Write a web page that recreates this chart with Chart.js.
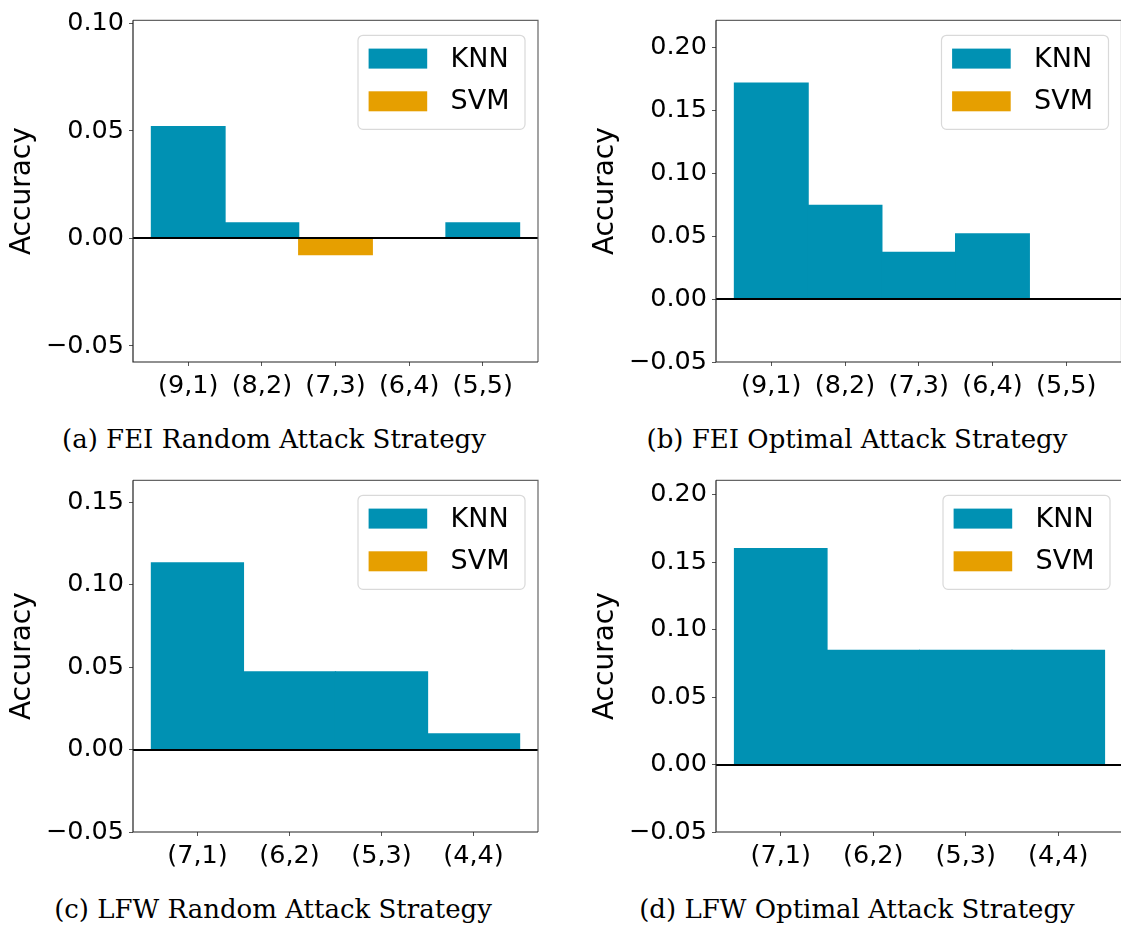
<!DOCTYPE html>
<html>
<head>
<meta charset="utf-8">
<script src="https://cdn.jsdelivr.net/npm/chart.js@4.4.0/dist/chart.umd.min.js"></script>
<style>
  html, body { margin: 0; padding: 0; background: #fff; overflow: hidden; }
  body { width: 1121px; height: 928px; position: relative; }
  .panel { position: absolute; }
  .caption {
    position: absolute;
    font-family: "DejaVu Serif", serif;
    font-size: 26px;
    line-height: 30px;
    color: #000;
    white-space: nowrap;
    transform: translateX(-50%);
  }
</style>
</head>
<body>
<div class="panel" style="left:0;top:0;width:560px;height:400px"><canvas id="feiRandom"></canvas></div>
<div class="panel" style="left:583px;top:0;width:540px;height:400px"><canvas id="feiOptimal"></canvas></div>
<div class="panel" style="left:0;top:460px;width:560px;height:410px"><canvas id="lfwRandom"></canvas></div>
<div class="panel" style="left:583px;top:460px;width:542px;height:410px"><canvas id="lfwOptimal"></canvas></div>

<div class="caption" style="left:274px;top:424px">(a) FEI Random Attack Strategy</div>
<div class="caption" style="left:857px;top:424px">(b) FEI Optimal Attack Strategy</div>
<div class="caption" style="left:273px;top:894px">(c) LFW Random Attack Strategy</div>
<div class="caption" style="left:857px;top:894px">(d) LFW Optimal Attack Strategy</div>

<script>
// (train, attack) splits
const feiGroups = ['(9,1)', '(8,2)', '(7,3)', '(6,4)', '(5,5)'];
const lfwGroups = ['(7,1)', '(6,2)', '(5,3)', '(4,4)'];

// accuracy change per split
const feiRandomKnn = [0.052, 0.0073, 0, 0, 0.0072];
const feiRandomSvm = [0, 0, -0.0075, 0, 0];
const feiOptimalKnn = [0.1715, 0.0744, 0.037, 0.0518, 0];
const feiOptimalSvm = [0, 0, 0, 0, 0];
const lfwRandomKnn = [0.1133, 0.0472, 0.0472, 0.0095];
const lfwRandomSvm = [0, 0, 0, 0];
const lfwOptimalKnn = [0.16, 0.0847, 0.0847, 0.0847];
const lfwOptimalSvm = [0, 0, 0, 0];

// y ticks
const feiRandomTicks = [-0.05, 0, 0.05, 0.10];
const feiOptimalTicks = [-0.05, 0, 0.05, 0.10, 0.15, 0.20];
const lfwRandomTicks = [-0.05, 0, 0.05, 0.10, 0.15];
const lfwOptimalTicks = [-0.05, 0, 0.05, 0.10, 0.15, 0.20];

const knnColor = '#0091b3';
const svmColor = '#e69f00';
const sans = 'DejaVu Sans';

function fmtTick(v) {
  return (v < 0 ? '\u2212' : '') + Math.abs(v).toFixed(2);
}

// zero line + axes frame, drawn over the bars
const framePlugin = {
  id: 'frame',
  afterDatasetsDraw(chart) {
    const {ctx, chartArea: a, scales} = chart;
    const y0 = Math.round(scales.y.getPixelForValue(0));
    ctx.save();
    ctx.strokeStyle = '#000';
    ctx.lineWidth = 2;
    ctx.beginPath();
    ctx.moveTo(a.left, y0);
    ctx.lineTo(a.right, y0);
    ctx.stroke();

    ctx.lineWidth = 1.2;
    ctx.strokeStyle = '#666';
    ctx.beginPath();
    ctx.moveTo(a.left, a.top);
    ctx.lineTo(a.right, a.top);
    ctx.lineTo(a.right, a.bottom);
    ctx.stroke();
    ctx.strokeStyle = '#222';
    ctx.beginPath();
    ctx.moveTo(a.left, a.top);
    ctx.lineTo(a.left, a.bottom);
    ctx.lineTo(a.right, a.bottom);
    ctx.stroke();
    ctx.restore();
  }
};

// boxed legend in the upper right corner
const boxLegend = {
  id: 'boxLegend',
  afterDraw(chart) {
    const {ctx, chartArea: a} = chart;
    const w = 167, h = 94;
    const bx = a.right - 13 - w, by = a.top + 15;
    ctx.save();
    ctx.fillStyle = 'rgba(255,255,255,0.8)';
    ctx.strokeStyle = '#d9d9d9';
    ctx.lineWidth = 1.2;
    ctx.beginPath();
    ctx.roundRect(bx, by, w, h, 5);
    ctx.fill();
    ctx.stroke();
    ctx.font = '27px "' + sans + '"';
    ctx.textBaseline = 'middle';
    chart.data.datasets.forEach((ds, i) => {
      const py = by + 13.3 + i * 42.7;
      ctx.fillStyle = ds.backgroundColor;
      ctx.fillRect(bx + 10.6, py, 58.6, 20);
      ctx.fillStyle = '#000';
      ctx.fillText(ds.label, bx + 92.6, py + 11);
    });
    ctx.restore();
  }
};

function makeChart(id, groups, knn, svm, yMin, yMax, yTicks, pad) {
  const xMargin = 0.5 + groups.length * 0.05;
  return new Chart(document.getElementById(id), {
    type: 'bar',
    data: {
      datasets: [
        { label: 'KNN', data: knn.map((v, i) => ({x: i, y: v})), backgroundColor: knnColor, borderWidth: 0 },
        { label: 'SVM', data: svm.map((v, i) => ({x: i, y: v})), backgroundColor: svmColor, borderWidth: 0 }
      ]
    },
    options: {
      responsive: true,
      maintainAspectRatio: false,
      animation: false,
      layout: { padding: pad },
      datasets: { bar: { grouped: false, categoryPercentage: 1, barPercentage: 1, inflateAmount: 0.6 } },
      plugins: { legend: { display: false }, tooltip: { enabled: false } },
      scales: {
        x: {
          type: 'linear',
          offset: false,
          min: -xMargin,
          max: groups.length - 1 + xMargin,
          afterBuildTicks: s => { s.ticks = groups.map((g, i) => ({value: i})); },
          afterFit: s => { s.height = 38; },
          border: { display: false },
          grid: { offset: false, drawOnChartArea: false, tickLength: 4, tickColor: '#555' },
          ticks: {
            callback: v => groups[v],
            autoSkip: false, maxRotation: 0, padding: 5,
            color: '#000', font: { family: sans, size: 25.5 }
          }
        },
        y: {
          min: yMin,
          max: yMax,
          afterBuildTicks: s => { s.ticks = yTicks.map(v => ({value: v})); },
          afterFit: s => { s.width = 133; },
          border: { display: false },
          grid: { drawOnChartArea: false, tickLength: 4, tickColor: '#555' },
          ticks: {
            callback: v => fmtTick(v),
            padding: 5,
            color: '#000', font: { family: sans, size: 25.5 }
          },
          title: {
            display: true, text: 'Accuracy', color: '#000',
            font: { family: sans, size: 28 }, padding: { top: 6, bottom: 0 }
          }
        }
      }
    },
    plugins: [framePlugin, boxLegend]
  });
}

makeChart('feiRandom', feiGroups, feiRandomKnn, feiRandomSvm, -0.0575, 0.1015, feiRandomTicks,
  { top: 12, right: 22, bottom: 0, left: 0 });
makeChart('feiOptimal', feiGroups, feiOptimalKnn, feiOptimalSvm, -0.05, 0.2213, feiOptimalTicks,
  { top: 6, right: 1.5, bottom: 0, left: 0 });
makeChart('lfwRandom', lfwGroups, lfwRandomKnn, lfwRandomSvm, -0.05, 0.1633, lfwRandomTicks,
  { top: 16, right: 22, bottom: 0, left: 0 });
makeChart('lfwOptimal', lfwGroups, lfwOptimalKnn, lfwOptimalSvm, -0.05, 0.2107, lfwOptimalTicks,
  { top: 16, right: 2, bottom: 0, left: 0 });
</script>
</body>
</html>
